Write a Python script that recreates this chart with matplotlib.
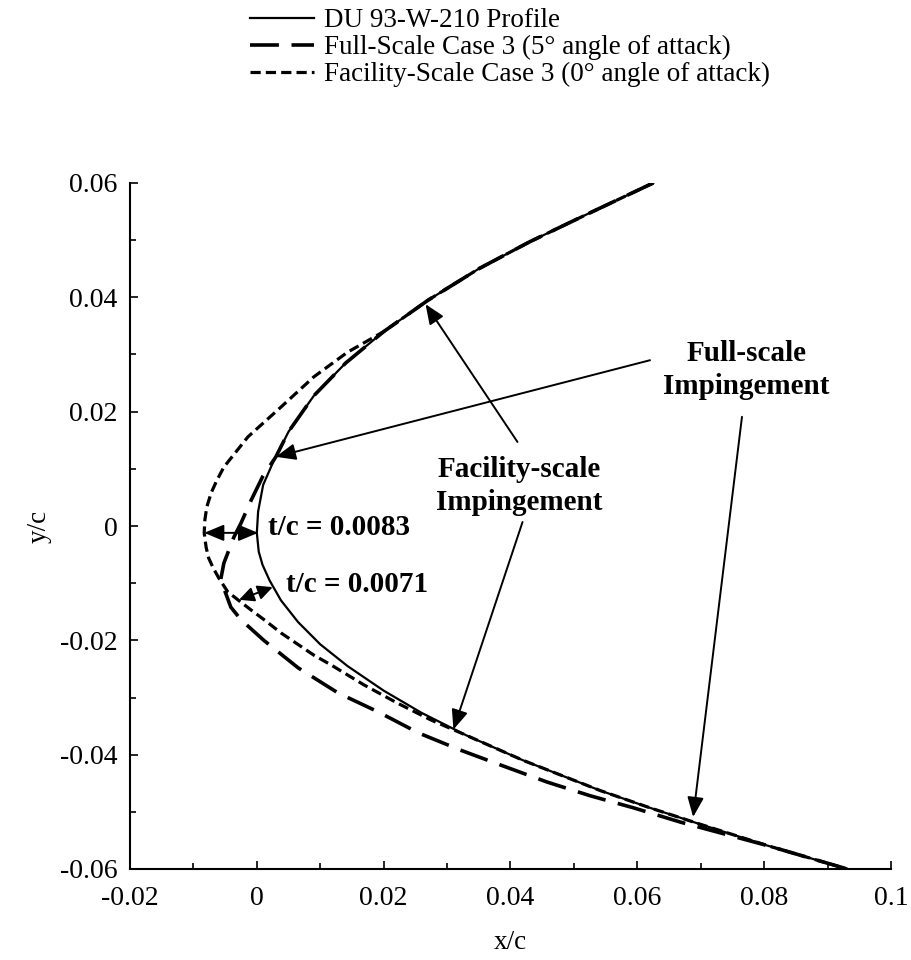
import matplotlib
matplotlib.use("Agg")
import matplotlib.pyplot as plt
from matplotlib.ticker import MultipleLocator
import numpy as np

plt.rcParams["font.family"] = ["Liberation Serif", "DejaVu Serif"]
plt.rcParams["font.size"] = 19.5

# DU 93-W-210 clean profile near the leading edge (x/c, y/c)
profile_x = [0.0625, 0.0520, 0.0430, 0.0350, 0.0270, 0.0200, 0.0140, 0.0090, 0.0050,
             0.0025, 0.0010, 0.0002, 0.0000, 0.0003, 0.0009, 0.0020, 0.0038, 0.0065,
             0.0100, 0.0143, 0.0200, 0.0260, 0.0330, 0.0420, 0.0542, 0.0620, 0.0700,
             0.0805, 0.0931]
profile_y = [0.0600, 0.0545, 0.0497, 0.0450, 0.0395, 0.0340, 0.0285, 0.0228, 0.0165,
             0.0110, 0.0072, 0.0025, -0.0012, -0.0045, -0.0068, -0.0095, -0.0130, -0.0168,
             -0.0207, -0.0245, -0.0288, -0.0327, -0.0366, -0.0410, -0.0463, -0.0493, -0.0522,
             -0.0559, -0.0600]

# full-scale case 3 ice shape (5 deg angle of attack)
full_x = [0.0625, 0.0520, 0.0430, 0.0350, 0.0270, 0.0200, 0.0140, 0.0090, 0.0050,
          0.0030, 0.0009, -0.0009, -0.0025, -0.0036, -0.0052, -0.0057, -0.0041, -0.0025,
          0.0011, 0.0065, 0.0128, 0.0191, 0.0255, 0.0321, 0.0389, 0.0458, 0.0526,
          0.0594, 0.0668, 0.0805, 0.0931]
full_y = [0.0600, 0.0545, 0.0497, 0.0450, 0.0395, 0.0340, 0.0285, 0.0228, 0.0165,
          0.0121, 0.0086, 0.0045, 0.0005, -0.0019, -0.0065, -0.0094, -0.0142, -0.0164,
          -0.0200, -0.0248, -0.0292, -0.0325, -0.0362, -0.0392, -0.0420, -0.0448, -0.0472,
          -0.0493, -0.0518, -0.0559, -0.0600]

# facility-scale case 3 ice shape (0 deg angle of attack)
fac_x = [0.0625, 0.0520, 0.0430, 0.0350, 0.0270, 0.0200, 0.0143, 0.0090, 0.0038,
         -0.0014, -0.0052, -0.0063, -0.0072, -0.0079, -0.0082, -0.0083, -0.0080, -0.0076,
         -0.0069, -0.0060, -0.0046, -0.0030, -0.0009, 0.0014, 0.0038, 0.0090, 0.0117,
         0.0169, 0.0222, 0.0274, 0.0330, 0.0420, 0.0542, 0.0620, 0.0700, 0.0805, 0.0931]
fac_y = [0.0600, 0.0545, 0.0497, 0.0450, 0.0395, 0.0340, 0.0304, 0.0261, 0.0208,
         0.0156, 0.0103, 0.0080, 0.0058, 0.0033, 0.0010, -0.0012, -0.0037, -0.0056,
         -0.0073, -0.0091, -0.0115, -0.0129, -0.0147, -0.0166, -0.0187, -0.0226, -0.0243,
         -0.0278, -0.0310, -0.0339, -0.0366, -0.0410, -0.0463, -0.0493, -0.0522, -0.0559,
         -0.0600]

series_labels = ["DU 93-W-210 Profile",
                 "Full-Scale Case 3 (5° angle of attack)",
                 "Facility-Scale Case 3 (0° angle of attack)"]

xticks = [-0.02, 0, 0.02, 0.04, 0.06, 0.08, 0.1]
xtick_labels = ["-0.02", "0", "0.02", "0.04", "0.06", "0.08", "0.1"]
yticks = [-0.06, -0.04, -0.02, 0, 0.02, 0.04, 0.06]
ytick_labels = ["-0.06", "-0.04", "-0.02", "0", "0.02", "0.04", "0.06"]

W, H = 911, 960
fig = plt.figure(figsize=(W / 100, H / 100), dpi=100)
ax = fig.add_axes([130 / W, 1 - 869 / H, (891 - 130) / W, (869 - 183) / H])

l1, = ax.plot(profile_x, profile_y, color="black", lw=1.6, label=series_labels[0])
l2, = ax.plot(full_x, full_y, color="black", lw=2.6, dashes=(8, 3.5), label=series_labels[1])
l3, = ax.plot(fac_x, fac_y, color="black", lw=2.3, dashes=(3.2, 1.6), label=series_labels[2])

ax.set_xlim(-0.02, 0.1)
ax.set_ylim(-0.06, 0.06)
ax.set_xticks(xticks, xtick_labels)
ax.set_yticks(yticks, ytick_labels)
ax.xaxis.set_minor_locator(MultipleLocator(0.01))
ax.yaxis.set_minor_locator(MultipleLocator(0.01))
ax.tick_params(which="major", direction="in", length=6, width=1.2, labelsize=20)
ax.tick_params(which="minor", direction="in", length=4.5, width=1.2)
ax.tick_params(axis="x", which="major", pad=12)
ax.tick_params(axis="y", which="major", pad=9)
for side in ("top", "right"):
    ax.spines[side].set_visible(False)
for side in ("left", "bottom"):
    ax.spines[side].set_linewidth(1.5)

ax.set_xlabel("x/c", labelpad=14)
ax.set_ylabel("y/c", labelpad=6)

fig.legend(handles=[l1, l2, l3], loc="upper left", bbox_to_anchor=(250 / W, 1 - 8 / H),
           frameon=False, handlelength=2.35, handletextpad=0.37, labelspacing=0.07,
           borderpad=0, borderaxespad=0)

# annotations
arrow = dict(arrowstyle="-|>,head_length=0.6,head_width=0.25", color="black", lw=1.4,
             mutation_scale=20, shrinkA=0, shrinkB=0)
both = dict(arrowstyle="<|-|>,head_length=0.6,head_width=0.25", color="black", lw=1.4,
            mutation_scale=20, shrinkA=0, shrinkB=0)
both_small = dict(arrowstyle="<|-|>,head_length=0.45,head_width=0.22", color="black", lw=1.4,
                  mutation_scale=20, shrinkA=0, shrinkB=0)
bold = dict(fontweight="bold", fontsize=21)

ax.text(0.0772, 0.0273, "Full-scale\nImpingement", ha="center", va="center",
        linespacing=1.3, **bold)
ax.annotate("", xy=(0.0030, 0.0121), xytext=(0.0620, 0.0290), arrowprops=arrow)
ax.annotate("", xy=(0.0688, -0.0509), xytext=(0.0765, 0.0191), arrowprops=arrow)

ax.text(0.0413, 0.0070, "Facility-scale\nImpingement", ha="center", va="center",
        linespacing=1.3, **bold)
ax.annotate("", xy=(0.0266, 0.0388), xytext=(0.0411, 0.0147), arrowprops=arrow)
ax.annotate("", xy=(0.0310, -0.0356), xytext=(0.0419, 0.0007), arrowprops=arrow)

ax.annotate("", xy=(-0.0083, -0.0012), xytext=(0.0002, -0.0012), arrowprops=both)
ax.text(0.0017, -0.0002, "t/c = 0.0083", ha="left", va="center", **bold)
ax.annotate("", xy=(-0.0028, -0.0129), xytext=(0.0025, -0.0107), arrowprops=both_small)
ax.text(0.0046, -0.0103, "t/c = 0.0071", ha="left", va="center", **bold)

fig.savefig("out.png", dpi=100)
